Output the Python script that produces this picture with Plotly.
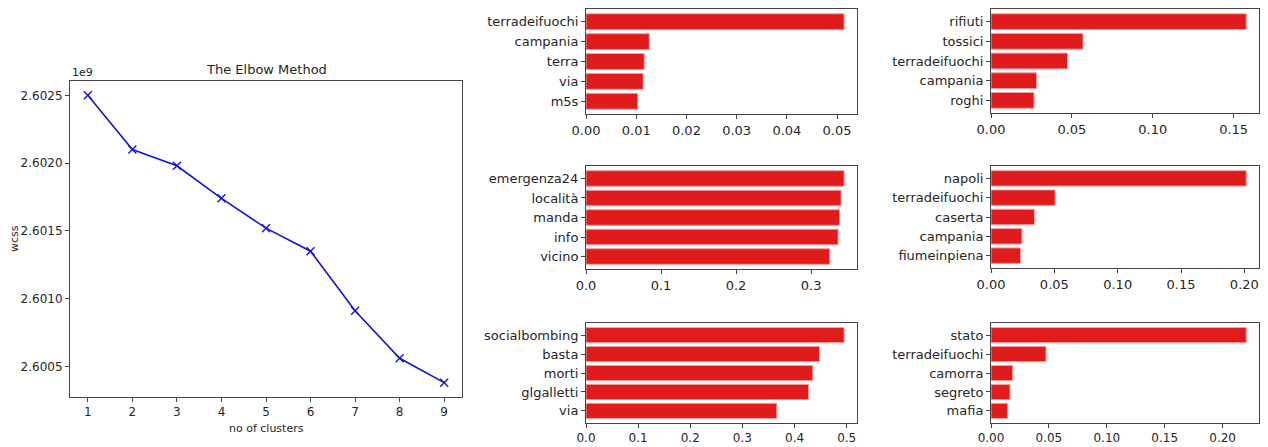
import plotly.graph_objects as go

# ---------------- data ----------------
clusters = [1, 2, 3, 4, 5, 6, 7, 8, 9]
wcss_1e9 = [2.60250, 2.60210, 2.60198, 2.60174, 2.60152, 2.60135, 2.60091, 2.60056, 2.60038]

c1_terms = ["terradeifuochi", "campania", "terra", "via", "m5s"]
c1_vals = [0.0514, 0.0126, 0.0116, 0.0114, 0.0103]
c2_terms = ["rifiuti", "tossici", "terradeifuochi", "campania", "roghi"]
c2_vals = [0.1578, 0.0569, 0.0474, 0.0282, 0.0266]
c3_terms = ["emergenza24", "località", "manda", "info", "vicino"]
c3_vals = [0.344, 0.340, 0.338, 0.336, 0.325]
c4_terms = ["napoli", "terradeifuochi", "caserta", "campania", "fiumeinpiena"]
c4_vals = [0.2015, 0.0506, 0.0343, 0.0244, 0.0233]
c5_terms = ["socialbombing", "basta", "morti", "glgalletti", "via"]
c5_vals = [0.495, 0.448, 0.435, 0.427, 0.366]
c6_terms = ["stato", "terradeifuochi", "camorra", "segreto", "mafia"]
c6_vals = [0.2204, 0.0475, 0.0187, 0.0164, 0.0144]

W, H = 1268, 447
def px_x(x): return x / W
def px_y(y): return 1 - y / H

TXT = "#262626"
FONT = "DejaVu Sans"
BAR = "#e01b1b"
BAR_EDGE = "#f4a0a0"

fig = go.Figure()

# ---------------- elbow line chart ----------------
fig.add_trace(go.Scatter(
    x=clusters, y=wcss_1e9, mode="lines+markers",
    line=dict(color="#1414d2", width=1.6),
    marker=dict(symbol="x-thin", size=8, line=dict(color="#1414d2", width=1.4)),
    xaxis="x", yaxis="y", showlegend=False, hoverinfo="x+y"))

axis_common = dict(showline=True, mirror=True, linecolor="#444", linewidth=1,
                   ticks="outside", ticklen=4, tickcolor="#444", showgrid=False,
                   zeroline=False, automargin=False)

layout = dict(
    width=W, height=H, margin=dict(l=0, r=0, t=0, b=0, autoexpand=False),
    paper_bgcolor="white", plot_bgcolor="white",
    font=dict(family=FONT, color=TXT),
    xaxis=dict(domain=[px_x(70), px_x(462)], anchor="y", range=[0.6, 9.4],
               tickvals=clusters, tickfont=dict(size=12, color=TXT), **axis_common),
    yaxis=dict(domain=[px_y(397), px_y(81)], anchor="x", range=[2.600274, 2.602606],
               tickvals=[2.6005, 2.6010, 2.6015, 2.6020, 2.6025], tickformat=".4f",
               tickfont=dict(size=12, color=TXT), **axis_common),
)

annotations = [
    dict(text="The Elbow Method", x=px_x(266), y=px_y(69), xref="paper", yref="paper",
         showarrow=False, font=dict(size=13, color=TXT), xanchor="center", yanchor="middle"),
    dict(text="1e9", x=px_x(70), y=px_y(72), xref="paper", yref="paper",
         showarrow=False, font=dict(size=11, color=TXT), xanchor="left", yanchor="middle"),
    dict(text="wcss", x=px_x(14), y=px_y(239), xref="paper", yref="paper", textangle=-90,
         showarrow=False, font=dict(size=11, color=TXT), xanchor="center", yanchor="middle"),
    dict(text="no of clusters", x=px_x(266), y=px_y(428), xref="paper", yref="paper",
         showarrow=False, font=dict(size=11, color=TXT), xanchor="center", yanchor="middle"),
]

# ---------------- bar charts ----------------
bars = [
    (c1_terms, c1_vals, 0.01, ".2f", (586, 857), (9, 114), 13),
    (c2_terms, c2_vals, 0.05, ".2f", (991, 1259), (9, 113), 13),
    (c3_terms, c3_vals, 0.1, ".1f", (586, 857), (166, 269), 13),
    (c4_terms, c4_vals, 0.05, ".2f", (991, 1259), (166, 268), 13),
    (c5_terms, c5_vals, 0.1, ".1f", (586, 857), (323, 423), 12),
    (c6_terms, c6_vals, 0.05, ".2f", (991, 1259), (323, 423), 12),
]

for i, (terms, vals, dt, fmt, (xl, xr), (yt, yb), xfs) in enumerate(bars, start=2):
    xa, ya = f"x{i}", f"y{i}"
    fig.add_trace(go.Bar(
        x=vals, y=terms, orientation="h", width=0.8,
        marker=dict(color=BAR, line=dict(color=BAR_EDGE, width=1)),
        xaxis=xa, yaxis=ya, showlegend=False))
    layout[f"xaxis{i}"] = dict(domain=[px_x(xl), px_x(xr)], anchor=ya,
                               range=[0, max(vals) * 1.05], dtick=dt, tick0=0,
                               tickformat=fmt, tickfont=dict(size=xfs, color=TXT),
                               **axis_common)
    layout[f"yaxis{i}"] = dict(domain=[px_y(yb), px_y(yt)], anchor=xa,
                               type="category", categoryorder="array", categoryarray=terms,
                               range=[4.64, -0.64], tickfont=dict(size=13, color=TXT),
                               **axis_common)

layout["annotations"] = annotations
layout["bargap"] = 0.2
fig.update_layout(**layout)

fig.write_html("out.html", config={"displayModeBar": False},
               post_script="document.body.style.margin='0';document.body.style.padding='0';")
